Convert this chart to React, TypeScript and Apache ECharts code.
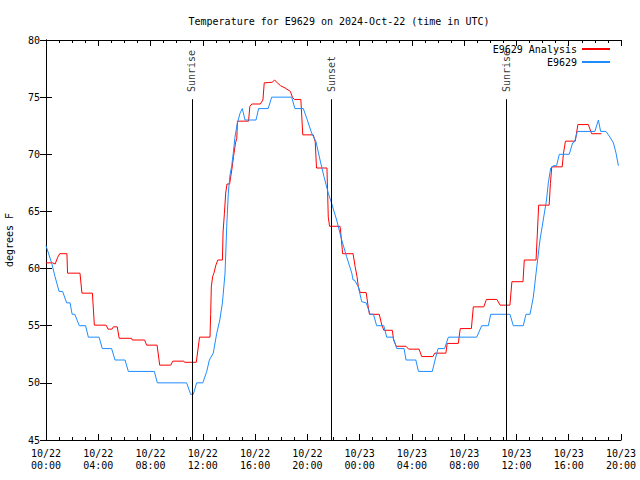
import React, { useEffect, useRef } from "react";
import * as echarts from "echarts";

const FONT = "DejaVu Sans Mono";

// hours since 2024-10-22 00:00 UTC
const redHours = [0, 0.5, 0.7, 0.9, 1.05, 1.6, 1.65, 2.6, 2.75, 3.55, 3.7, 4.6, 4.75, 5.05, 5.15, 5.45, 5.6, 6.55, 6.6, 7.55, 7.7, 8.5, 8.7, 9.55, 9.7, 10.55, 10.6, 11.5, 11.75, 12.55, 12.6, 12.65, 12.75, 12.85, 13.0, 13.15, 13.5, 13.55, 13.65, 13.75, 13.85, 14.05, 14.25, 14.35, 14.5, 14.6, 14.65, 15.5, 15.6, 15.75, 16.4, 16.6, 16.7, 17.3, 17.5, 17.7, 17.95, 18.3, 18.7, 18.85, 19.0, 19.5, 19.65, 20.45, 20.6, 20.7, 21.5, 21.6, 21.7, 22.5, 22.55, 22.7, 23.5, 23.65, 23.8, 23.9, 24.05, 24.5, 24.65, 24.75, 25.5, 25.7, 25.85, 26.5, 26.6, 26.8, 27.55, 27.75, 28.55, 28.75, 29.6, 29.75, 30.6, 30.7, 31.55, 31.7, 32.55, 32.7, 33.5, 33.7, 34.5, 34.75, 35.5, 35.65, 36.5, 36.6, 37.5, 37.6, 37.7, 38.5, 38.6, 38.7, 39.5, 39.6, 39.75, 40.5, 40.7, 41.5, 41.75, 42.5];
const redTemps = [60.5, 60.5, 60.4, 61.0, 61.3, 61.3, 59.6, 59.6, 57.85, 57.85, 55.05, 55.05, 54.7, 54.7, 54.9, 54.9, 53.9, 53.9, 53.75, 53.75, 53.3, 53.3, 51.55, 51.55, 51.9, 51.9, 51.8, 51.8, 54.0, 54.0, 56.0, 58.4, 59.3, 59.6, 60.3, 60.75, 60.75, 63.2, 64.8, 66.6, 67.4, 67.4, 68.9, 69.8, 71.0, 71.4, 72.9, 72.9, 74.2, 74.4, 74.4, 74.75, 76.25, 76.3, 76.5, 76.25, 76.0, 75.8, 75.5, 75.0, 74.8, 74.8, 71.7, 71.7, 71.1, 68.8, 68.8, 64.5, 63.7, 63.7, 63.2, 61.3, 61.3, 60.2, 59.3, 58.4, 57.9, 57.9, 56.7, 56.0, 56.0, 55.05, 54.6, 54.6, 53.75, 53.2, 53.2, 52.95, 52.95, 52.3, 52.3, 52.6, 52.6, 53.45, 53.45, 54.75, 54.75, 56.65, 56.65, 57.3, 57.3, 56.8, 56.8, 58.85, 58.85, 60.75, 60.75, 63.1, 65.55, 65.55, 67.45, 68.9, 68.9, 70.1, 71.15, 71.15, 72.6, 72.6, 71.8, 71.8];

const blueHours = [0, 0.43, 0.69, 1.0, 1.27, 1.58, 1.84, 2.0, 2.2, 2.55, 3.03, 3.24, 4.06, 4.31, 5.02, 5.28, 6.05, 6.3, 8.29, 8.52, 10.76, 11.07, 11.27, 11.53, 12.0, 12.3, 12.5, 12.8, 13.06, 13.3, 13.5, 13.7, 13.83, 13.95, 14.08, 14.2, 14.33, 14.46, 14.64, 14.85, 15.02, 15.23, 16.07, 16.27, 17.0, 17.27, 18.8, 19.05, 19.69, 19.95, 20.33, 20.66, 20.97, 21.27, 21.6, 21.86, 22.24, 22.63, 23.0, 23.4, 23.5, 23.6, 23.9, 24.16, 24.5, 24.8, 25.06, 25.3, 25.85, 26.07, 26.55, 26.84, 27.4, 27.55, 28.3, 28.5, 29.56, 29.77, 30.0, 30.5, 30.79, 32.96, 33.34, 33.85, 34.03, 35.5, 35.76, 36.52, 36.73, 37.04, 37.29, 37.5, 37.8, 38.05, 38.3, 38.44, 38.62, 38.82, 39.07, 39.28, 40.04, 40.3, 40.45, 40.66, 42.0, 42.27, 42.44, 42.85, 43.16, 43.42, 43.62, 43.8];
const blueTemps = [62, 60.5, 59.3, 58, 58, 57, 57, 56, 56, 55, 55, 54, 54, 53, 53, 52, 52, 51, 51, 50, 50, 49, 49, 50, 50, 51, 52, 52.6, 54.3, 55.5, 57, 59.6, 63.7, 66.6, 68.2, 68.9, 70.1, 71.5, 72.7, 73.6, 74, 73, 73, 74, 74, 75, 75, 74, 74, 73.15, 71.85, 71.1, 69.5, 68.05, 66.6, 65.7, 64.25, 62.5, 61.05, 59.6, 59.0, 59.0, 58.4, 57.1, 57, 56, 56, 55, 55, 54, 54, 53, 53, 52, 52, 51, 51, 52, 53, 53, 54, 54, 55, 55, 56, 56, 55, 55, 56, 56, 57.5, 59.6, 62.5, 64.25, 66, 67.5, 68.8, 69, 69, 70, 70, 71, 71.1, 72, 72, 73, 72, 72, 71.5, 71, 70.1, 69];

const sunHours = [11.17, 21.85, 35.2];
const sunNames = ["Sunrise", "Sunset", "Sunrise"];
const sunLineTop = 74.82;
const sunLabelBase = 75.45;

const xTicks = { min: 0, max: 44, interval: 4 };
const yTicks = { min: 45, max: 80, interval: 5 };

function xLabel(h: number): string {
  const day = h < 24 ? "10/22" : "10/23";
  const hh = Math.round(h % 24);
  return `${day}\n${hh < 10 ? "0" + hh : hh}:00`;
}

export default function App() {
  const ref = useRef<HTMLDivElement>(null);
  useEffect(() => {
    if (!ref.current) return;
    const chart = echarts.init(ref.current, null, { renderer: "svg" });
    const axisLine = { show: true, lineStyle: { color: "#000", width: 1 } };
    const textBase = { fontFamily: FONT, fontSize: 10, color: "#000" };
    const xCommon = {
      type: "value" as const,
      min: xTicks.min,
      max: xTicks.max,
      interval: xTicks.interval,
      axisLine,
      axisTick: { show: true, inside: true, length: 6, lineStyle: { color: "#000" } },
      minorTick: { show: true, splitNumber: 4, length: 3, lineStyle: { color: "#000" } },
      splitLine: { show: false },
      minorSplitLine: { show: false },
    };
    const yCommon = {
      type: "value" as const,
      min: yTicks.min,
      max: yTicks.max,
      interval: yTicks.interval,
      axisLine,
      axisTick: { show: true, inside: true, length: 6, lineStyle: { color: "#000" } },
      splitLine: { show: false },
    };
    chart.setOption({
      animation: false,
      backgroundColor: "#fff",
      title: {
        text: "Temperature for E9629 on 2024-Oct-22 (time in UTC)",
        left: 334,
        textAlign: "center",
        top: 11,
        textStyle: { ...textBase, fontWeight: "normal" },
      },
      legend: {
        orient: "vertical",
        right: 25,
        top: 38,
        align: "right",
        itemWidth: 28,
        itemHeight: 2,
        itemGap: 1,
        icon: "rect",
        textStyle: { ...textBase, fontSize: 10, lineHeight: 12 },
        data: ["E9629 Analysis", "E9629"],
      },
      grid: { left: 46, right: 19, top: 40, bottom: 40, containLabel: false, outerBoundsMode: "none" },
      xAxis: [
        {
          ...xCommon,
          position: "bottom",
          axisLabel: { ...textBase, margin: 7, lineHeight: 12, formatter: (v: number) => xLabel(v) },
        },
        { ...xCommon, position: "top", axisLabel: { show: false } },
      ],
      yAxis: [
        {
          ...yCommon,
          position: "left",
          name: "degrees F",
          nameLocation: "middle",
          nameGap: 32,
          nameTextStyle: { ...textBase },
          axisLabel: { ...textBase, margin: 6 },
        },
        { ...yCommon, position: "right", axisLabel: { show: false } },
      ],
      series: [
        {
          name: "E9629 Analysis",
          type: "line",
          showSymbol: false,
          symbol: "none",
          color: "#ff0000",
          lineStyle: { width: 1, color: "#ff0000" },
          data: redHours.map((h, i) => [h, redTemps[i]]),
          z: 3,
          markLine: {
            silent: true,
            symbol: "none",
            label: { show: false },
            lineStyle: { color: "#000", width: 1, type: "solid" },
            data: sunHours.map((h) => [{ coord: [h, yTicks.min] }, { coord: [h, sunLineTop] }]),
          },
        },
        {
          name: "E9629",
          type: "line",
          showSymbol: false,
          symbol: "none",
          color: "#1e8cff",
          lineStyle: { width: 1, color: "#1e8cff" },
          data: blueHours.map((h, i) => [h, blueTemps[i]]),
          z: 4,
        },
        {
          name: "sun",
          type: "scatter",
          symbolSize: 1,
          itemStyle: { color: "rgba(0,0,0,0)" },
          silent: true,
          data: sunHours.map((h, i) => ({ value: [h, sunLabelBase], name: sunNames[i] })),
          label: {
            show: true,
            position: "inside",
            rotate: 90,
            align: "left",
            verticalAlign: "middle",
            formatter: (p: any) => p.name,
            ...textBase,
          },
          z: 5,
        },
      ],
    });
    return () => chart.dispose();
  }, []);
  return <div ref={ref} style={{ position: "fixed", left: 0, top: 0, width: 640, height: 480 }} />;
}
